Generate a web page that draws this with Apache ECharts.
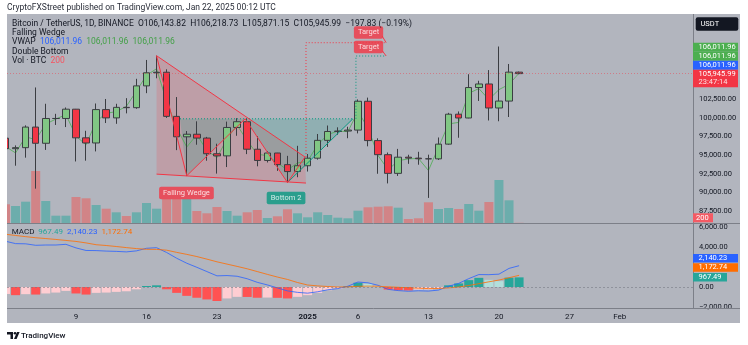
<!DOCTYPE html>
<html><head><meta charset="utf-8">
<script src="https://cdn.jsdelivr.net/npm/echarts@6/dist/echarts.min.js"></script>
<style>html,body{margin:0;padding:0;background:#fff}#c{width:748px;height:345px}</style>
</head><body><div id="c"></div>
<script>
// ---- data (day index 0 = Dec 2, 2024) ----
const days = ['Dec 2','Dec 3','Dec 4','Dec 5','Dec 6','Dec 7','Dec 8','Dec 9','Dec 10','Dec 11','Dec 12','Dec 13','Dec 14','Dec 15','Dec 16','Dec 17','Dec 18','Dec 19','Dec 20','Dec 21','Dec 22','Dec 23','Dec 24','Dec 25','Dec 26','Dec 27','Dec 28','Dec 29','Dec 30','Dec 31','Jan 1','Jan 2','Jan 3','Jan 4','Jan 5','Jan 6','Jan 7','Jan 8','Jan 9','Jan 10','Jan 11','Jan 12','Jan 13','Jan 14','Jan 15','Jan 16','Jan 17','Jan 18','Jan 19','Jan 20','Jan 21','Jan 22'];
const openP  = [97276,95865,96002,98768,96593,99920,99923,101170,97323,96633,101116,100000,101417,101372,104299,106058,106133,100205,97461,97805,97291,95187,94900,98717,99487,95794,94284,95286,93724,92793,93576,94591,96985,98174,98236,98363,102235,96954,95061,92553,94726,94599,94511,94500,96477,100497,99987,104077,104556,101331,102260,106143.82];
const highP  = [98152,96307,99000,104088,101898,100548,101399,101200,98270,101935,102540,101895,102650,105250,107780,108353,106524,102800,98233,99540,97448,96538,99500,99963,99963,97544,95525,95300,94903,96250,95150,97839,98976,98734,98813,102480,102724,97258,95350,95837,95050,95450,95060,97371,100681,100866,105865,104988,106422,109588,107240,106218.73];
const lowP   = [94482,93579,94660,90500,95700,99050,98771,94150,94256,95500,99311,99205,100609,101227,103322,105321,100000,95671,92232,96398,94250,92520,93400,97600,95137,93500,94014,92882,91317,92033,92800,94392,96100,97735,97271,97920,96181,92500,91203,92206,93831,93712,89256,94346,96400,97335,99950,102277,99651,99550,100119,105871.15];
const closeP = [95865,96002,98768,96593,99920,99923,101170,97323,96633,101116,100000,101417,101372,104299,106058,106133,100205,97461,97805,97291,95187,94900,98717,99487,95794,94284,95286,93724,92793,93576,94591,96985,98174,98236,98363,102235,96954,95061,92553,94726,94599,94511,94500,96477,100497,99987,104077,104556,101331,102260,106143.82,105945.99];
const volume = [20570,18700,23430,57200,24200,8030,8030,28600,27170,19800,15730,11770,7700,11770,22000,15730,26400,26400,26400,13200,10670,17600,13200,8030,11770,14300,5500,7370,15070,10670,6270,11770,8800,5830,5170,13530,17270,17930,18370,16830,4400,5170,22770,15400,16500,15400,20900,13530,23100,47300,24970,200];
const vwap   = [96166,95296,97476,97060,99173,99840,100447,97558,96386,99517,100617,100839,101544,103592,105720,106602,102243,98644,96090,97743,95628,94653,97206,99017,96965,95109,94942,93969,93004,93953,94180,96405,97750,98235,98149,100878,98620,94940,93035,94256,94493,94558,92939,96065,99193,99396,103297,103940,102468,103799,104501,106011.96];
const macdLine = [4600,4360,4340,4190,4220,4220,4290,3930,3670,3660,3610,3580,3530,3630,3890,3950,3470,2890,2390,1980,1550,1120,1150,1080,830,470,210,-90,-390,-540,-620,-480,-280,-160,80,500,420,170,-240,-360,-430,-380,-410,-310,80,360,840,1250,1240,1290,1870,2140.23];
const signalLine = [5300,5180,5060,4950,4870,4780,4680,4580,4430,4250,4170,4070,3960,3860,3790,3780,3700,3480,3280,3060,2800,2530,2300,2070,1830,1550,1270,1000,760,450,200,110,50,0,10,70,90,70,20,-30,-80,-120,-160,-150,-90,0,150,330,520,700,930,1172.74];
const histo = [-700,-820,-720,-760,-650,-560,-390,-650,-760,-590,-560,-490,-430,-230,100,170,-230,-590,-890,-1080,-1250,-1410,-1150,-990,-1000,-1080,-1060,-1090,-1150,-990,-820,-590,-330,-160,70,430,330,100,-260,-330,-350,-260,-250,-160,170,360,690,920,720,590,940,967.49];
const xTickDays = [7,14,21,30,35,42,49,56,61];
const xTickLabels = ['9','16','23','2025','6','13','20','27','Feb'];
// pattern drawings (day index, price)
const wedgeTop = [[15,108353],[29.74,94750]];
const wedgeBottom = [[15,92450],[29.84,91250]];
const wedgeZig = [[15,108353],[18,92232],[23.8,99880],[28,91317],[29.74,94750]];
const wedgeFill = [[15,108353],[29.74,94750],[29.84,91250],[15,92450]];
const dbFill1 = [[17.33,99880],[18,92232],[23.8,99880]];
const dbFill2 = [[23.8,99880],[28,91317],[34.5,99880]];
const dbNeck = [[17.33,99880],[34.5,99880]];
const dbRise = [[28,91317],[34.5,99880]];
const dbTarget = [[34.8,99880],[34.8,108312],[37.8,108312]];
const wedgeTarget = [[29.84,94750],[29.84,110098],[37.8,110098]];
const targetTail1 = [[37.4,111000],[37.8,110098]];
const targetTail2 = [[37.4,109050],[37.8,108312]];
const labelsRed = [[17.97,89915,'Falling Wedge'],[36.05,111468,'Target'],[36.05,109521,'Target']];
const labelsTeal = [[27.86,89244,'Bottom 2']];
const lastPrice = 105945.99;

const FONT = "Roboto, 'Liberation Sans', sans-serif";
const DARK = '#131722';
const FS = 8.5;
const fmt2 = v => (v < 0 ? '\u2212' : '') + Math.abs(v).toLocaleString('en-US',{minimumFractionDigits:2,maximumFractionDigits:2});

const X0 = 0.15, X1 = 68.27;
const candles = openP.map((o,i)=>[i,o,closeP[i],lowP[i],highP[i]]);
const volData = volume.map((v,i)=>[i,v]);
const idx = a => a.map((v,i)=>[i,v]);

function polySeries(poly, fill){
  return {type:'custom', xAxisIndex:0, yAxisIndex:0, clip:true, silent:true, z:1,
    data:[poly[0]],
    renderItem:(p,api)=>({type:'polygon', shape:{points:poly.map(pt=>api.coord(pt))}, style:{fill:fill}})};
}
function lineSeries(pts, color, type){
  return {type:'line', xAxisIndex:0, yAxisIndex:0, data:pts, symbol:'none', silent:true, z:4,
    lineStyle:{color:color, width:1, type:type||'solid'}};
}
function labelSeries(items, bg){
  return {type:'scatter', xAxisIndex:0, yAxisIndex:0, symbol:'circle', symbolSize:1, silent:true, z:6,
    itemStyle:{color:'rgba(0,0,0,0)'},
    data:items.map(d=>({value:[d[0],d[1]], name:d[2]})),
    label:{show:true, position:'inside', formatter:p=>p.name, backgroundColor:bg, color:'#fff',
      fontFamily:FONT, fontSize:7.5, padding:[2.5,4,2,4], borderRadius:2}};
}

const hidden = {show:false};
const option = {
  animation:false,
  backgroundColor:'#ffffff',
  grid:[
    {left:7, right:55, top:6.2, bottom:345-229.6},
    {left:7, right:55, top:14, bottom:345-223},
    {left:7, right:55, top:227.3, bottom:345-306.9}
  ],
  xAxis:[
    {type:'value', gridIndex:0, min:X0, max:X1, axisLine:hidden, axisTick:hidden, axisLabel:hidden, splitLine:hidden},
    {type:'value', gridIndex:1, min:X0, max:X1, axisLine:hidden, axisTick:hidden, axisLabel:hidden, splitLine:hidden},
    {type:'value', gridIndex:2, min:X0, max:X1, axisLine:hidden, axisTick:hidden, splitLine:hidden,
      axisLabel:{show:true, customValues:xTickDays, margin:6, color:DARK, fontSize:8, fontFamily:FONT,
        formatter:v=>{const k=xTickDays.indexOf(Math.round(v)); if(k<0) return ''; const t=xTickLabels[k]; return t==='2025'?'{b|2025}':t;},
        rich:{b:{fontWeight:'bold', fontSize:8, color:DARK, fontFamily:FONT}}}}
  ],
  yAxis:[
    {type:'value', gridIndex:0, position:'right', min:85000, max:115000, interval:2500,
      axisLine:hidden, axisTick:hidden, splitLine:hidden,
      axisLabel:{margin:6, color:DARK, fontSize:7.5, fontFamily:FONT,
        formatter:v=>(v>=87500 && v<=102500)?fmt2(v):''}},
    {type:'value', gridIndex:1, min:0, max:229900, show:false},
    {type:'value', gridIndex:2, position:'right', min:-2000, max:6000, interval:2000,
      axisLine:hidden, axisTick:hidden, splitLine:hidden,
      axisLabel:{margin:6, color:DARK, fontSize:7.5, fontFamily:FONT,
        formatter:v=>(v===2000)?'':fmt2(v)}}
  ],
  series:[
    polySeries(wedgeFill,'rgba(242,54,69,0.18)'),
    polySeries(dbFill1,'rgba(8,153,129,0.2)'),
    polySeries(dbFill2,'rgba(8,153,129,0.2)'),
    {type:'bar', xAxisIndex:1, yAxisIndex:1, data:volData, barWidth:9, z:0, silent:true,
      itemStyle:{color:p=>closeP[p.dataIndex]>=openP[p.dataIndex]?'rgba(38,166,154,0.5)':'rgba(239,83,80,0.5)'}},
    {type:'candlestick', xAxisIndex:0, yAxisIndex:0, data:candles, encode:{x:0,y:[1,2,3,4]}, barWidth:7, z:3, silent:true,
      itemStyle:{color:'#81c784', color0:'#f23645', borderColor:'#3b3d42', borderColor0:'#3b3d42', borderWidth:1},
      markLine:{silent:true, symbol:'none', label:{show:false},
        lineStyle:{color:'rgba(242,54,69,0.45)', type:[1,2], width:1},
        data:[{yAxis:lastPrice}]}},
    {type:'line', xAxisIndex:0, yAxisIndex:0, data:idx(vwap), symbol:'none', z:3, silent:true,
      lineStyle:{color:'#4caf50', width:1, opacity:0.8}},
    lineSeries(dbNeck,'#089981',[1,2]),
    lineSeries(dbRise,'#089981'),
    lineSeries(dbTarget,'#089981',[1,2]),
    lineSeries(wedgeTarget,'#f23645',[1,2]),
    lineSeries(wedgeTop,'#f23645'),
    lineSeries(wedgeBottom,'#f23645'),
    lineSeries(wedgeZig,'#f23645'),
    lineSeries(targetTail1,'#f23645'),
    lineSeries(targetTail2,'#f23645'),
    labelSeries(labelsRed,'#f23645'),
    labelSeries(labelsTeal,'#089981'),
    {type:'bar', xAxisIndex:2, yAxisIndex:2, data:idx(histo), barWidth:9, silent:true, z:2,
      itemStyle:{color:p=>{const i=p.dataIndex, v=histo[i], pv=i>0?histo[i-1]:v;
        if(v>=0) return v>=pv?'#26a69a':'#b2dfdb'; return v<pv?'#ff5252':'#ffcdd2';}},
      markLine:{silent:true, symbol:'none', label:{show:false},
        lineStyle:{color:'rgba(120,123,134,0.6)', type:[2,2], width:1}, data:[{yAxis:0}]}},
    {type:'line', xAxisIndex:2, yAxisIndex:2, data:idx(macdLine), symbol:'none', z:3, silent:true,
      lineStyle:{color:'#2962ff', width:1, opacity:0.8}},
    {type:'line', xAxisIndex:2, yAxisIndex:2, data:idx(signalLine), symbol:'none', z:3, silent:true,
      lineStyle:{color:'#ff6d00', width:1, opacity:0.8}}
  ],
  graphic:[
    {type:'rect', z:-10, silent:true, shape:{x:7,y:14,width:733,height:309}, style:{fill:'#b2b5be'}},
    {type:'rect', z:50, silent:true, shape:{x:0,y:0,width:7,height:345}, style:{fill:'#ffffff'}},
    {type:'line', z:10, silent:true, shape:{x1:7,y1:223.5,x2:740,y2:223.5}, style:{stroke:'#7c7f88',lineWidth:1}},
    {type:'line', z:10, silent:true, shape:{x1:7,y1:308.5,x2:740,y2:308.5}, style:{stroke:'#7c7f88',lineWidth:1}},
    {type:'line', z:10, silent:true, shape:{x1:693.5,y1:14,x2:693.5,y2:308}, style:{stroke:'#7c7f88',lineWidth:1}},
    // header texts
    {type:'text', z:60, silent:true, x:7, y:8.3, style:{text:'CryptoFXStreet published on TradingView.com, Jan 22, 2025 00:12 UTC', fill:'#2a2e39', fontSize:FS, fontFamily:FONT, verticalAlign:'middle'}},
    {type:'text', z:20, silent:true, x:12, y:24, style:{text:'Bitcoin / TetherUS, 1D, BINANCE  O106,143.82  H106,218.73  L105,871.15  C105,945.99  \u2212197.83 (\u22120.19%)', fill:DARK, fontSize:FS, fontFamily:FONT, verticalAlign:'middle'}},
    {type:'text', z:20, silent:true, x:12, y:33, style:{text:'Falling Wedge', fill:DARK, fontSize:FS, fontFamily:FONT, verticalAlign:'middle'}},
    {type:'text', z:20, silent:true, x:12, y:42.3, style:{text:'{d|VWAP}  {b|106,011.96}  {g|106,011.96}  {g|106,011.96}', fontSize:FS, fontFamily:FONT, verticalAlign:'middle',
      rich:{d:{fill:DARK,fontSize:FS,fontFamily:FONT}, b:{fill:'#2962ff',fontSize:FS,fontFamily:FONT}, g:{fill:'#43a047',fontSize:FS,fontFamily:FONT}}}},
    {type:'text', z:20, silent:true, x:12, y:51.7, style:{text:'Double Bottom', fill:DARK, fontSize:FS, fontFamily:FONT, verticalAlign:'middle'}},
    {type:'text', z:20, silent:true, x:12, y:61, style:{text:'{d|Vol \u00b7 BTC}  {r|200}', fontSize:FS, fontFamily:FONT, verticalAlign:'middle',
      rich:{d:{fill:DARK,fontSize:FS,fontFamily:FONT}, r:{fill:'#f7525f',fontSize:FS,fontFamily:FONT}}}},
    {type:'text', z:20, silent:true, x:11.7, y:232, style:{text:'{d|MACD}  {t|967.49}  {b|2,140.23}  {o|1,172.74}', fontSize:8, fontFamily:FONT, verticalAlign:'middle',
      rich:{d:{fill:DARK,fontSize:8,fontFamily:FONT}, t:{fill:'#26a69a',fontSize:8,fontFamily:FONT}, b:{fill:'#2962ff',fontSize:8,fontFamily:FONT}, o:{fill:'#ff6d00',fontSize:8,fontFamily:FONT}}}},
    // price-scale tags
    {type:'rect', z:20, silent:true, shape:{x:695.7,y:17.3,width:42.6,height:13.4,r:2}, style:{fill:'#131722'}},
    {type:'text', z:21, silent:true, x:700.5, y:24, style:{text:'USDT', fill:'#ffffff', fontSize:7.5, fontFamily:FONT, verticalAlign:'middle'}},
    {type:'rect', z:20, silent:true, shape:{x:693,y:42.7,width:45,height:9}, style:{fill:'#4caf50'}},
    {type:'text', z:21, silent:true, x:698.5, y:47.3, style:{text:'106,011.96', fill:'#ffffff', fontSize:7.5, fontFamily:FONT, verticalAlign:'middle'}},
    {type:'rect', z:20, silent:true, shape:{x:693,y:51.7,width:45,height:9}, style:{fill:'#4caf50'}},
    {type:'text', z:21, silent:true, x:698.5, y:56.3, style:{text:'106,011.96', fill:'#ffffff', fontSize:7.5, fontFamily:FONT, verticalAlign:'middle'}},
    {type:'rect', z:20, silent:true, shape:{x:693,y:60.7,width:45,height:9}, style:{fill:'#2962ff'}},
    {type:'text', z:21, silent:true, x:698.5, y:65.3, style:{text:'106,011.96', fill:'#ffffff', fontSize:7.5, fontFamily:FONT, verticalAlign:'middle'}},
    {type:'rect', z:20, silent:true, shape:{x:693,y:69.7,width:45,height:17.6}, style:{fill:'#f23645'}},
    {type:'text', z:21, silent:true, x:698.5, y:74.3, style:{text:'105,945.99', fill:'#ffffff', fontSize:7.5, fontFamily:FONT, verticalAlign:'middle'}},
    {type:'text', z:21, silent:true, x:698.5, y:82.5, style:{text:'23:47:14', fill:'#ffe0e2', fontSize:7.5, fontFamily:FONT, verticalAlign:'middle'}},
    {type:'rect', z:20, silent:true, shape:{x:693,y:213.3,width:20,height:9}, style:{fill:'#f45a64'}},
    {type:'text', z:21, silent:true, x:696, y:217.8, style:{text:'200', fill:'#ffffff', fontSize:7.5, fontFamily:FONT, verticalAlign:'middle'}},
    {type:'rect', z:20, silent:true, shape:{x:693,y:254,width:45,height:8.5}, style:{fill:'#2962ff'}},
    {type:'text', z:21, silent:true, x:698.5, y:258.3, style:{text:'2,140.23', fill:'#ffffff', fontSize:7.5, fontFamily:FONT, verticalAlign:'middle'}},
    {type:'rect', z:20, silent:true, shape:{x:693,y:263.3,width:45,height:8.5}, style:{fill:'#ff6d00'}},
    {type:'text', z:21, silent:true, x:698.5, y:267.6, style:{text:'1,172.74', fill:'#ffffff', fontSize:7.5, fontFamily:FONT, verticalAlign:'middle'}},
    {type:'rect', z:20, silent:true, shape:{x:693,y:273,width:34,height:8.5}, style:{fill:'#26a69a'}},
    {type:'text', z:21, silent:true, x:698.5, y:277.3, style:{text:'967.49', fill:'#ffffff', fontSize:7.5, fontFamily:FONT, verticalAlign:'middle'}},
    // TradingView logo
    {type:'polygon', z:60, silent:true, shape:{points:[[7,332],[13,332],[13,339],[10.5,339],[10.5,334.5],[7,334.5]]}, style:{fill:'#131722'}},
    {type:'circle', z:60, silent:true, shape:{cx:15,cy:333.3,r:1.3}, style:{fill:'#131722'}},
    {type:'polygon', z:60, silent:true, shape:{points:[[17,332],[19.6,332],[16.6,339],[14,339]]}, style:{fill:'#131722'}},
    {type:'text', z:60, silent:true, x:21, y:335.5, style:{text:'TradingView', fill:'#131722', fontSize:8, fontWeight:500, fontFamily:FONT, verticalAlign:'middle'}}
  ]
};
const chart = echarts.init(document.getElementById('c'), null, {renderer:'canvas'});
chart.setOption(option);
</script></body></html>
